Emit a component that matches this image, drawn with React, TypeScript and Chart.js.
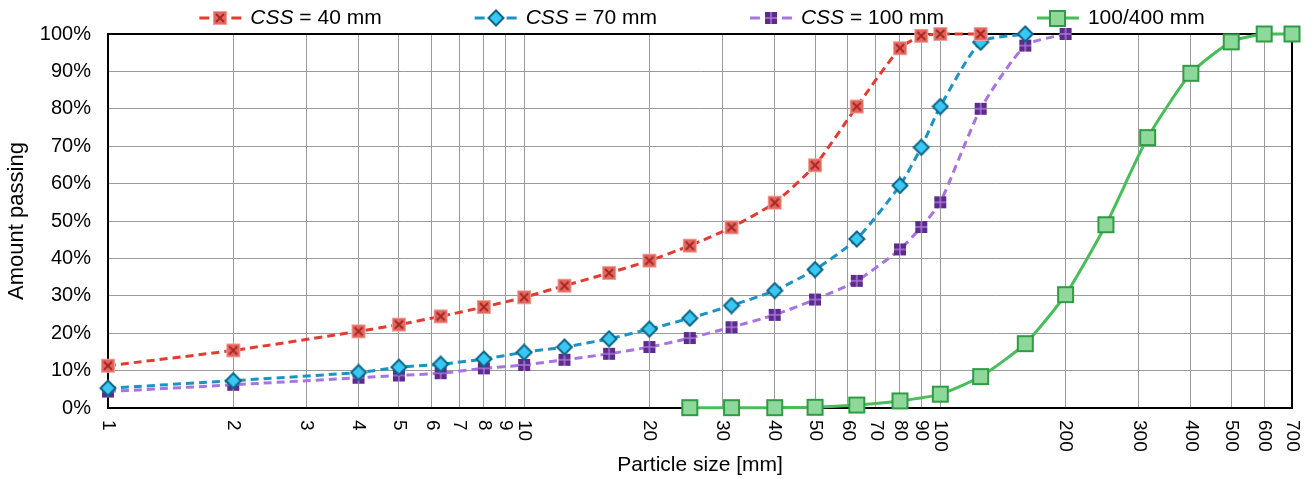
import React, { useEffect, useRef } from 'react';
import { Chart, registerables } from 'chart.js';

Chart.register(...registerables);

// ---------- data ----------
const sizes40 = [1, 2, 4, 5, 6.3, 8, 10, 12.5, 16, 20, 25, 31.5, 40, 50, 63, 80, 90, 100, 125];
const passing40 = [11.3, 15.4, 20.5, 22.3, 24.5, 27, 29.6, 32.7, 36.1, 39.4, 43.4, 48.3, 54.9, 64.9, 80.6, 96.2, 99.5, 100, 100];

const sizes70 = [1, 2, 4, 5, 6.3, 8, 10, 12.5, 16, 20, 25, 31.5, 40, 50, 63, 80, 90, 100, 125, 160];
const passing70 = [5.3, 7.3, 9.5, 10.9, 11.7, 13.1, 14.9, 16.3, 18.5, 21.1, 24, 27.4, 31.4, 37, 45.2, 59.5, 69.7, 80.6, 97.8, 100];

const sizes100 = [1, 2, 4, 5, 6.3, 8, 10, 12.5, 16, 20, 25, 31.5, 40, 50, 63, 80, 90, 100, 125, 160, 200];
const passing100 = [4.4, 6.2, 8.1, 8.7, 9.3, 10.6, 11.5, 12.9, 14.5, 16.3, 18.7, 21.6, 24.9, 29, 34, 42.4, 48.4, 55, 80, 96.9, 100];

const sizesRef = [25, 31.5, 40, 50, 63, 80, 100, 125, 160, 200, 250, 315, 400, 500, 600, 700];
const passingRef = [0.1, 0.1, 0.1, 0.2, 0.8, 1.9, 3.7, 8.4, 17.2, 30.3, 49, 72.3, 89.5, 97.9, 100, 100];

const seriesLabels = ['CSS = 40 mm', 'CSS = 70 mm', 'CSS = 100 mm', '100/400 mm'];

const xTickValues = [1, 2, 3, 4, 5, 6, 7, 8, 9, 10, 20, 30, 40, 50, 60, 70, 80, 90, 100, 200, 300, 400, 500, 600, 700];
const yTickValues = [0, 10, 20, 30, 40, 50, 60, 70, 80, 90, 100];

const xTitle = 'Particle size [mm]';
const yTitle = 'Amount passing';

// ---------- styles ----------
const FONT = '"Liberation Sans", Arial, Helvetica, sans-serif';
const lineColors = ['#E03C31', '#1B93C3', '#A774E0', '#47BE5A'];
const dashes = [[8, 5], [8, 5], [8, 5], []];

function makeMarker(kind: string): HTMLCanvasElement {
  const c = document.createElement('canvas');
  const ctx = c.getContext('2d') as CanvasRenderingContext2D;
  if (kind === 'red') {
    c.width = 16; c.height = 16;
    ctx.fillStyle = '#E2675F';
    ctx.fillRect(1, 1, 14, 14);
    ctx.strokeStyle = '#F0A098';
    ctx.lineWidth = 1;
    ctx.strokeRect(1.5, 1.5, 13, 13);
    ctx.strokeStyle = '#A82520';
    ctx.lineWidth = 1.8;
    ctx.beginPath();
    ctx.moveTo(4, 4); ctx.lineTo(12, 12);
    ctx.moveTo(12, 4); ctx.lineTo(4, 12);
    ctx.stroke();
  } else if (kind === 'blue') {
    c.width = 18; c.height = 18;
    ctx.beginPath();
    ctx.moveTo(9, 1.5); ctx.lineTo(16.5, 9); ctx.lineTo(9, 16.5); ctx.lineTo(1.5, 9); ctx.closePath();
    ctx.fillStyle = '#3AC7F3';
    ctx.fill();
    ctx.strokeStyle = '#0C6585';
    ctx.lineWidth = 2;
    ctx.stroke();
  } else if (kind === 'purple') {
    c.width = 14; c.height = 14;
    ctx.fillStyle = '#5E2B8C';
    ctx.fillRect(1, 1, 12, 12);
    ctx.strokeStyle = '#A57BD6';
    ctx.lineWidth = 1.5;
    ctx.beginPath();
    ctx.moveTo(7, 1); ctx.lineTo(7, 13);
    ctx.moveTo(1, 7); ctx.lineTo(13, 7);
    ctx.stroke();
  } else {
    c.width = 19; c.height = 19;
    ctx.fillStyle = '#8DD89A';
    ctx.fillRect(2, 2, 15, 15);
    ctx.strokeStyle = '#2F9B45';
    ctx.lineWidth = 2;
    ctx.strokeRect(2, 2, 15, 15);
  }
  return c;
}

const customPlugin = {
  id: 'customDecor',
  beforeDatasetsDraw(chart: any) {
    const { ctx, chartArea } = chart;
    ctx.save();
    ctx.strokeStyle = '#000';
    ctx.lineWidth = 2;
    ctx.strokeRect(chartArea.left, chartArea.top, chartArea.right - chartArea.left, chartArea.bottom - chartArea.top);
    ctx.restore();
  },
  afterDraw(chart: any) {
    const { ctx, chartArea } = chart;
    const xScale = chart.scales.x;
    // rotated x tick labels (clockwise)
    ctx.save();
    ctx.fillStyle = '#000';
    ctx.font = `19px ${FONT}`;
    ctx.textAlign = 'left';
    ctx.textBaseline = 'middle';
    xTickValues.forEach((v) => {
      const px = xScale.getPixelForValue(v);
      ctx.save();
      ctx.translate(px, chartArea.bottom + 12);
      ctx.rotate(Math.PI / 2);
      ctx.fillText(String(v), 0, 0);
      ctx.restore();
    });
    ctx.restore();

    // legend
    ctx.save();
    const size = 21;
    const normal = `${size}px ${FONT}`;
    const italic = `italic ${size}px ${FONT}`;
    const lineLen = 42;
    const gapLine = 9;
    const itemGap = 93;
    const items = chart.data.datasets.map((ds: any, i: number) => {
      const label: string = ds.label;
      let it = '';
      let rest = label;
      if (label.startsWith('CSS')) { it = 'CSS'; rest = label.slice(3); }
      ctx.font = italic;
      const wi = it ? ctx.measureText(it).width : 0;
      ctx.font = normal;
      const wr = ctx.measureText(rest).width;
      return { it, rest, wi, wr, i, marker: ds.pointStyle };
    });
    let total = 0;
    items.forEach((o: any) => { total += lineLen + gapLine + o.wi + o.wr; });
    total += itemGap * (items.length - 1);
    let x = (chartArea.left + chartArea.right) / 2 + 2 - total / 2;
    const y = 18;
    items.forEach((o: any) => {
      const color = lineColors[o.i];
      ctx.strokeStyle = color;
      ctx.lineWidth = 3;
      ctx.setLineDash([]);
      ctx.beginPath();
      if (dashes[o.i].length) {
        ctx.moveTo(x, y); ctx.lineTo(x + 10, y);
        ctx.moveTo(x + lineLen - 10, y); ctx.lineTo(x + lineLen, y);
      } else {
        ctx.moveTo(x, y); ctx.lineTo(x + lineLen, y);
      }
      ctx.stroke();
      const m: HTMLCanvasElement = o.marker;
      ctx.drawImage(m, Math.round(x + lineLen / 2 - m.width / 2), Math.round(y - m.height / 2));
      let tx = x + lineLen + gapLine;
      ctx.fillStyle = '#000';
      ctx.textBaseline = 'middle';
      ctx.textAlign = 'left';
      if (o.it) {
        ctx.font = italic;
        ctx.fillText(o.it, tx, y);
        tx += o.wi;
      }
      ctx.font = normal;
      ctx.fillText(o.rest, tx, y);
      x = tx + o.wr + itemGap;
    });
    ctx.restore();
  },
};

export default function App() {
  const canvasRef = useRef<HTMLCanvasElement | null>(null);

  useEffect(() => {
    if (!canvasRef.current) return;
    const markers = [makeMarker('red'), makeMarker('blue'), makeMarker('purple'), makeMarker('green')];
    const sizeSets = [sizes40, sizes70, sizes100, sizesRef];
    const valueSets = [passing40, passing70, passing100, passingRef];

    const datasets = seriesLabels.map((label, i) => ({
      label,
      data: sizeSets[i].map((s, j) => ({ x: s, y: valueSets[i][j] })),
      borderColor: lineColors[i],
      backgroundColor: lineColors[i],
      borderWidth: 3,
      borderDash: dashes[i],
      pointStyle: markers[i],
      pointRadius: 7,
      tension: 0.2,
      clip: false as const,
      fill: false,
    }));

    const chart = new Chart(canvasRef.current, {
      type: 'line',
      data: { datasets },
      options: {
        animation: false,
        responsive: true,
        maintainAspectRatio: false,
        parsing: false as any,
        layout: { padding: { top: 34, right: 23, bottom: 0, left: 0 } },
        plugins: {
          legend: { display: false },
          tooltip: { enabled: false },
        },
        scales: {
          x: {
            type: 'logarithmic',
            min: 1,
            max: 700,
            afterBuildTicks: (scale: any) => {
              scale.ticks = xTickValues.map((v) => ({ value: v }));
            },
            afterFit: (scale: any) => {
              scale.height = 71;
            },
            ticks: { display: false },
            grid: { color: '#9A9A9A', lineWidth: 1, drawTicks: false },
            border: { color: '#000', width: 2 },
            title: {
              display: true,
              text: xTitle,
              color: '#000',
              font: { family: FONT, size: 21 },
              padding: { top: 0, bottom: 1 },
            },
          },
          y: {
            type: 'linear',
            min: 0,
            max: 100,
            afterBuildTicks: (scale: any) => {
              scale.ticks = yTickValues.map((v) => ({ value: v }));
            },
            afterFit: (scale: any) => {
              scale.width = 108;
            },
            ticks: {
              callback: (v: any) => `${v}%`,
              color: '#000',
              font: { family: FONT, size: 20 },
              padding: 17,
            },
            grid: { color: '#9A9A9A', lineWidth: 1, drawTicks: false },
            border: { color: '#000', width: 2 },
            title: {
              display: true,
              text: yTitle,
              color: '#000',
              font: { family: FONT, size: 22 },
              padding: { top: 4, bottom: 0 },
            },
          },
        },
      },
      plugins: [customPlugin],
    });

    return () => {
      chart.destroy();
    };
  }, []);

  return (
    <div style={{ position: 'absolute', left: 0, top: 0, width: 1315, height: 479, background: '#fff' }}>
      <canvas ref={canvasRef} />
    </div>
  );
}
